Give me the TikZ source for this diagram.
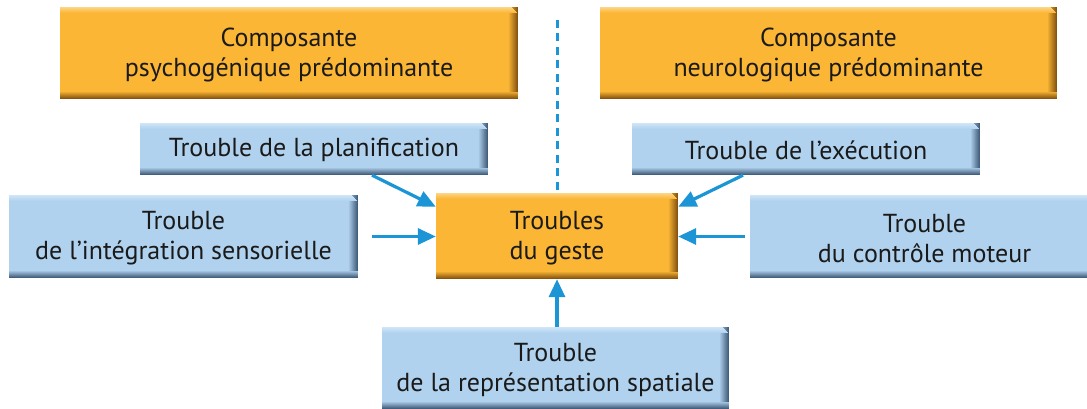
\documentclass[tikz,border=0pt]{standalone}
\usepackage{fontspec}
\setmainfont{PT Sans}
\usetikzlibrary{arrows.meta,calc}
\definecolor{org}{RGB}{250,182,52}
\definecolor{orgdk}{RGB}{135,84,15}
\definecolor{orglt}{RGB}{254,218,150}
\definecolor{blu}{RGB}{176,210,238}
\definecolor{bludk}{RGB}{66,94,124}
\definecolor{blult}{RGB}{214,233,249}
\definecolor{arr}{RGB}{27,149,214}
\definecolor{txt}{RGB}{26,26,26}
\newcommand\bevelbox[4]{% node, base, dark, light
  \foreach \k in {1,...,9}{
    \pgfmathtruncatemacro\pc{\k*11}
    \fill[#3!\pc!#2] ([xshift={(\k-10)*1pt}]#1.north east) rectangle ([xshift={(\k-9)*1pt}]#1.south east);
  }
  \foreach \k in {1,...,7}{
    \pgfmathtruncatemacro\pc{\k*14}
    \fill[#3!\pc!#2] ([yshift={(8-\k)*1pt}]#1.south west) rectangle ([yshift={(7-\k)*1pt}]#1.south east);
  }
  \foreach \k in {1,...,6}{
    \pgfmathtruncatemacro\pc{100-\k*15}
    \fill[#4!\pc!#2] ([yshift={(1-\k)*1pt}]#1.north west) rectangle ([yshift={-\k*1pt},xshift={-(7-\k)*1pt}]#1.north east);
  }
}
\tikzset{
  box/.style={rectangle, inner sep=0pt, align=center, text=txt, font=\fontsize{26}{30}\selectfont},
  obox/.style={box, fill=org},
  bbox/.style={box, fill=blu},
  conn/.style={draw=arr, line width=3.2pt, -{Triangle[length=18pt,width=16pt]}},
  sep/.style={draw=arr, line width=3pt, dash pattern=on 8pt off 5.5pt},
}
\begin{document}
\begin{tikzpicture}[x=1pt,y=1pt]
\useasboundingbox (0,0) rectangle (1087,408);
\clip (0,0) rectangle (1087,408);
\node[obox, minimum width=458pt, minimum height=92pt] (psy) at (289,355) {};
\node[obox, minimum width=457pt, minimum height=92pt] (neu) at (828.5,355) {};
\node[bbox, minimum width=348pt, minimum height=52pt] (plan) at (314,259) {};
\node[bbox, minimum width=348pt, minimum height=52pt] (exec) at (806,259) {};
\node[bbox, minimum width=349pt, minimum height=83pt] (sens) at (183.5,171.5) {};
\node[bbox, minimum width=349pt, minimum height=83pt] (mot) at (924.5,171.5) {};
\node[obox, minimum width=242pt, minimum height=86pt] (geste) at (557,172) {};
\node[bbox, minimum width=347pt, minimum height=82pt] (spat) at (555.5,40) {};
\bevelbox{psy}{org}{orgdk}{orglt}
\bevelbox{neu}{org}{orgdk}{orglt}
\bevelbox{geste}{org}{orgdk}{orglt}
\bevelbox{plan}{blu}{bludk}{blult}
\bevelbox{exec}{blu}{bludk}{blult}
\bevelbox{sens}{blu}{bludk}{blult}
\bevelbox{mot}{blu}{bludk}{blult}
\bevelbox{spat}{blu}{bludk}{blult}
\node[box] (psyt) at ([yshift=-2pt]psy.center) {Composante\\psychogénique prédominante};
\node[box] (neut) at ([yshift=-2pt]neu.center) {Composante\\neurologique prédominante};
\node[box] (plant) at ([yshift=-1pt]plan.center) {Trouble de la planification};
\node[box] (exect) at ([yshift=-1pt]exec.center) {Trouble de l’exécution};
\node[box] (senst) at ([yshift=-2pt]sens.center) {Trouble\\de l’intégration sensorielle};
\node[box] (mott) at ([yshift=-2pt]mot.center) {Trouble\\du contrôle moteur};
\node[box] (gestet) at ([yshift=-2pt]geste.center) {Troubles\\du geste};
\node[box] (spatt) at ([yshift=-2pt]spat.center) {Trouble\\de la représentation spatiale};
\coordinate (top) at (557,390);
\draw[sep] ([yshift=3pt]geste.north) -- (top);
\draw[conn] ([xshift=58pt]plan.south) -- ([yshift=-14pt]geste.north west);
\draw[conn] ([xshift=-63pt]exec.south) -- ([yshift=-14pt]geste.north east);
\draw[conn] ([xshift=14pt]sens.east) -- (sens.east -| geste.west);
\draw[conn] ([xshift=-5pt]mot.west) -- (mot.west -| geste.east);
\draw[conn] (geste.south |- spat.north) -- (geste.south);
\end{tikzpicture}
\end{document}
